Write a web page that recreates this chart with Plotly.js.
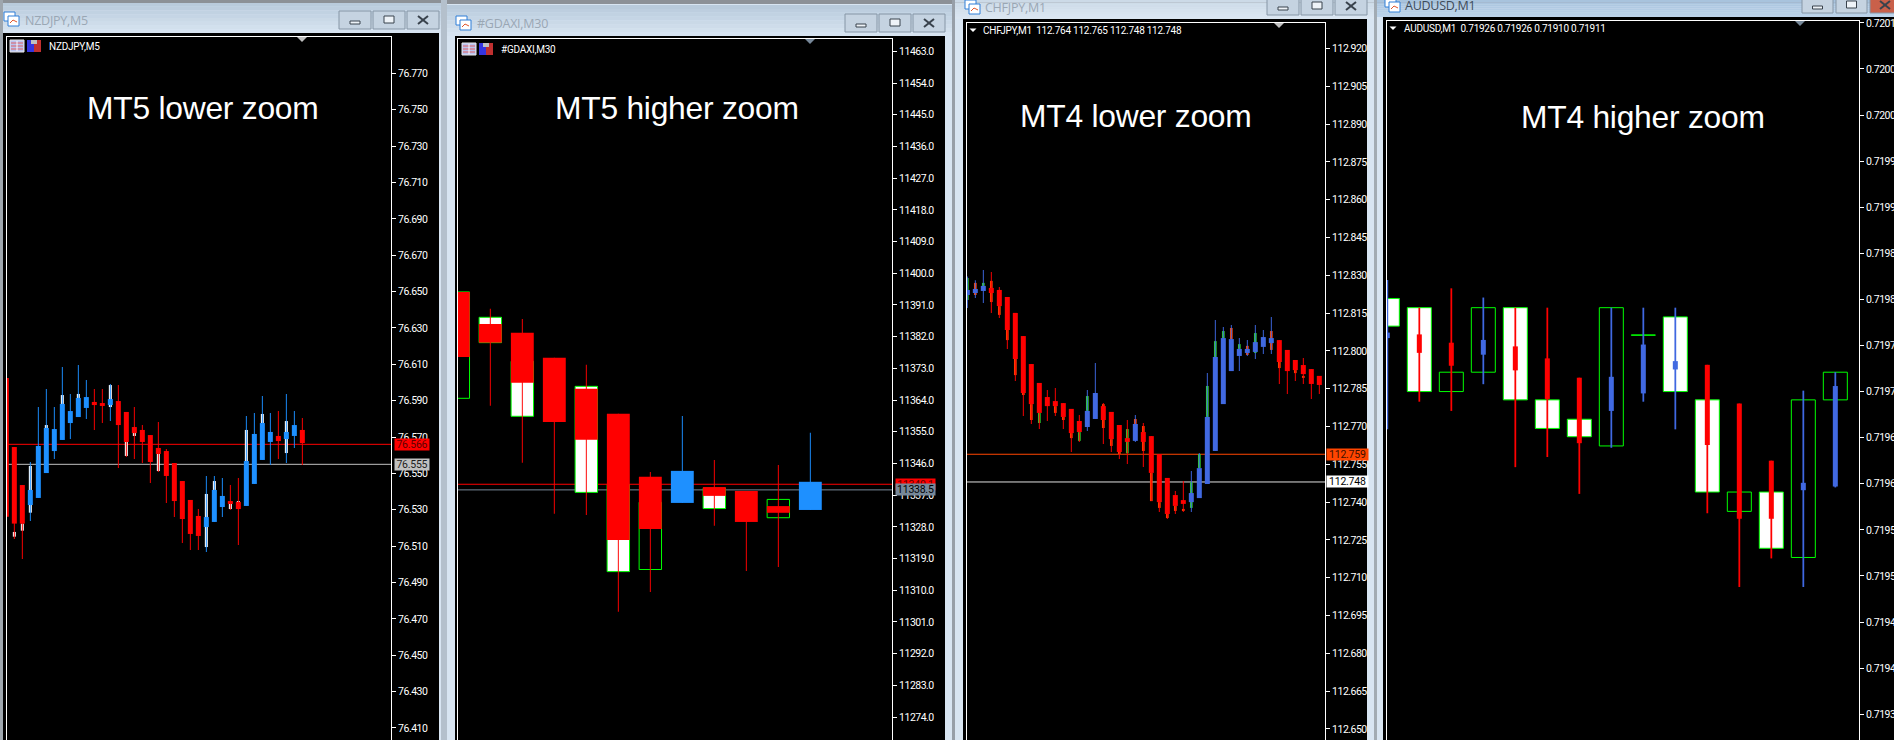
<!DOCTYPE html>
<html>
<head>
<meta charset="utf-8">
<script src="https://cdn.plot.ly/plotly-3.0.1.min.js"></script>
<style>
html,body{margin:0;padding:0;background:#d8e5f2;overflow:hidden}
#chart{width:1894px;height:740px}
.yaxislayer-above text{letter-spacing:-0.5px}
.annotation-text{letter-spacing:-0.25px}
</style>
</head>
<body>
<div id="chart"></div>
<script>
/* ---------- NZDJPY,M5 ---------- */
const nzdTicks = [76.770,76.750,76.730,76.710,76.690,76.670,76.650,76.630,76.610,76.590,76.570,76.550,76.530,76.510,76.490,76.470,76.450,76.430,76.410];
const nzdLevels = [76.566, 76.555];
const nzdDir = ['d','d','d','u','u','u','u','u','u','u','u','d','d','u','d','d','d','d','d','d','d','d','d','d','d','u','u','u','d','d','u','u','u','u','d','u','u','d'];
const nzdHigh = [76.6025,76.5645,76.5436,76.5563,76.5865,76.5964,76.5865,76.6085,76.5937,76.6096,76.6014,76.5964,76.5964,76.5992,76.5986,76.5838,76.5865,76.5766,76.5711,76.5783,76.5634,76.5557,76.5458,76.5354,76.5304,76.5486,76.5486,76.5475,76.5436,76.5475,76.5816,76.5832,76.5926,76.5832,76.5843,76.5937,76.5843,76.5805];
const nzdLow = [76.5262,76.5139,76.5029,76.5238,76.5365,76.5502,76.5579,76.5684,76.5689,76.5810,76.5799,76.5739,76.5777,76.5788,76.5530,76.5590,76.5579,76.5557,76.5447,76.5508,76.5337,76.5260,76.5117,76.5079,76.5079,76.5068,76.5233,76.5260,76.5299,76.5106,76.5321,76.5442,76.5574,76.5546,76.5579,76.5557,76.5640,76.5546];
const nzdBodyTop = [76.6025,76.5645,76.5436,76.5409,76.5651,76.5750,76.5744,76.5882,76.5843,76.5915,76.5920,76.5893,76.5887,76.5909,76.5898,76.5838,76.5755,76.5739,76.5711,76.5640,76.5623,76.5557,76.5458,76.5354,76.5266,76.5260,76.5409,76.5376,76.5348,76.5343,76.5568,76.5717,76.5777,76.5728,76.5706,76.5728,76.5766,76.5739];
const nzdBodyBottom = [76.5262,76.5224,76.5224,76.5326,76.5365,76.5502,76.5623,76.5684,76.5777,76.5810,76.5860,76.5876,76.5871,76.5876,76.5766,76.5673,76.5722,76.5673,76.5563,76.5607,76.5486,76.5348,76.5249,76.5167,76.5156,76.5205,76.5233,76.5315,76.5332,76.5304,76.5321,76.5442,76.5574,76.5673,76.5678,76.5689,76.5706,76.5667];
const nzdShadeTop = [null,76.5178,76.5224,76.5541,null,76.5766,null,76.5931,null,76.5937,null,null,null,76.5986,null,76.5673,76.5722,null,null,76.5607,null,null,null,null,null,76.5387,76.5458,null,76.5332,76.5348,76.5739,null,76.5827,null,null,76.5788,null,null];
const nzdShadeBottom = [null,76.5152,76.5185,76.5284,null,76.5750,null,76.5882,null,76.5915,null,null,null,76.5865,null,76.5596,76.5706,null,null,76.5513,null,null,null,null,null,76.5095,76.5409,null,76.5304,76.5343,76.5568,null,76.5777,null,null,76.5612,null,null];

/* ---------- #GDAXI,M30 ---------- */
const daxTicks = [11463,11454,11445,11436,11427,11418,11409,11400,11391,11382,11373,11364,11355,11346,11337,11328,11319,11310,11301,11292,11283,11274];
const daxLevels = [11340.1, 11338.5];
const daxDir = ['d','d','d','d','d','d','d','u','d','d','d','u'];
const daxHigh = [11394.7,11389.9,11387.0,11376.0,11374.0,11360.1,11343.6,11359.5,11347.0,11338.2,11345.6,11354.7];
const daxLow = [11376.2,11362.4,11346.2,11331.7,11331.4,11303.9,11309.5,11334.8,11328.3,11315.5,11316.6,11332.8];
const daxBodyTop = [11394.7,11385.6,11383.1,11376.0,11367.2,11360.1,11342.2,11343.9,11339.3,11338.2,11333.9,11340.8];
const daxBodyBottom = [11376.2,11380.3,11368.9,11357.8,11352.7,11324.3,11327.4,11334.8,11336.8,11329.4,11332.0,11332.8];
const daxShadeTop = [11394.7,11387.5,11375.0,null,11367.9,11340.0,11335.0,null,11339.0,null,11335.8,null];
const daxShadeBottom = [11364.5,11380.3,11359.4,null,11337.8,11315.3,11315.9,null,11333.2,null,11330.6,null];
const daxShadeKind = ['k','w','w',null,'w','w','k',null,'w',null,'k',null];

/* ---------- CHFJPY,M1 ---------- */
const chfTicks = [112.920,112.905,112.890,112.875,112.860,112.845,112.830,112.815,112.800,112.785,112.770,112.755,112.740,112.725,112.710,112.695,112.680,112.665,112.650];
const chfLevels = [112.759, 112.748];
const chfDir = ['u','u','u','d','d','d','d','d','d','d','d','d','d','d','d','u','u','d','d','d','d','u','d','d','d','d','d','d','u','u','u','u','u','u','u','u','u','u','u','d','d','d','d','d','d'];
const chfHigh = [112.8295,112.8281,112.8321,112.8313,112.8254,112.8214,112.8151,112.8059,112.7948,112.7873,112.7845,112.7853,112.7793,112.7770,112.7746,112.7845,112.7952,112.7793,112.7758,112.7706,112.7726,112.7746,112.7714,112.7662,112.7591,112.7496,112.7444,112.7484,112.7524,112.7595,112.7912,112.8123,112.8095,112.8103,112.8051,112.8043,112.8103,112.8083,112.8135,112.8043,112.8004,112.7964,112.7972,112.7928,112.7901];
const chfLow = [112.8170,112.8210,112.8190,112.8151,112.8131,112.8008,112.7881,112.7742,112.7710,112.7690,112.7722,112.7742,112.7690,112.7599,112.7639,112.7682,112.7730,112.7631,112.7599,112.7571,112.7551,112.7639,112.7539,112.7404,112.7361,112.7333,112.7353,112.7361,112.7361,112.7416,112.7472,112.7603,112.7789,112.7920,112.7920,112.7980,112.7968,112.7988,112.7988,112.7869,112.7829,112.7881,112.7869,112.7809,112.7829];
const chfBodyTop = [112.8242,112.8246,112.8258,112.8250,112.8242,112.8214,112.8151,112.8059,112.7948,112.7873,112.7817,112.7801,112.7793,112.7770,112.7722,112.7762,112.7833,112.7781,112.7758,112.7706,112.7654,112.7710,112.7678,112.7662,112.7591,112.7496,112.7428,112.7408,112.7436,112.7535,112.7738,112.7976,112.8051,112.8047,112.8008,112.8008,112.8035,112.8055,112.8051,112.8043,112.8004,112.7964,112.7944,112.7928,112.7901];
const chfBodyBottom = [112.8222,112.8230,112.8238,112.8230,112.8178,112.8083,112.7968,112.7833,112.7789,112.7754,112.7781,112.7781,112.7738,112.7674,112.7678,112.7698,112.7730,112.7726,112.7650,112.7599,112.7639,112.7643,112.7639,112.7516,112.7400,112.7353,112.7385,112.7393,112.7400,112.7416,112.7472,112.7603,112.7789,112.7920,112.7980,112.7992,112.7996,112.8016,112.8031,112.7956,112.7920,112.7924,112.7908,112.7869,112.7865];
const chfShadeTop = [112.8289,112.8270,112.8270,112.8278,112.8178,112.8083,112.7968,112.7833,112.7789,112.7754,null,112.7781,112.7738,112.7674,112.7678,112.7821,null,112.7789,112.7650,112.7599,112.7690,112.7730,112.7702,112.7516,112.7400,112.7353,112.7385,112.7373,112.7480,112.7591,112.7861,112.8039,112.8079,112.8091,112.8027,112.8020,112.8071,null,112.8079,112.7956,null,112.7924,112.7901,null,null];
const chfShadeBottom = [112.8202,112.8222,112.8258,112.8194,112.8143,112.8043,112.7904,112.7825,112.7726,112.7714,null,112.7754,112.7726,112.7654,112.7643,112.7762,null,112.7694,112.7623,112.7591,112.7594,112.7710,112.7603,112.7404,112.7377,112.7337,112.7365,112.7365,112.7377,112.7535,112.7738,112.7976,112.8051,112.8047,112.8008,112.7984,112.7992,null,112.8004,112.7932,null,112.7912,112.7893,null,null];
const chfShadeKind = ['g','o','g','o','o','o','o','o','o','g',null,'o','o','o','g','g',null,'o','o','o','g','o','o','o','o','o','o','o','g','g','g','g','g','o','g','o','g',null,'o','o',null,'o','o',null,null];

/* ---------- AUDUSD,M1 ---------- */
const audTicks = [0.72010,0.72005,0.72000,0.71995,0.71990,0.71985,0.71980,0.71975,0.71970,0.71965,0.71960,0.71955,0.71950,0.71945,0.71940,0.71935];
const audTickLabels = ['0.7201','0.7200','0.7200','0.7199','0.7199','0.7198','0.7198','0.7197','0.7197','0.7196','0.7196','0.7195','0.7195','0.7194','0.7194','0.7193'];
const audDir = ['u','d','d','u','d','d','d','u','u','u','d','d','d','u','u'];
const audHigh = [0.719821,0.719791,0.719812,0.719802,0.719791,0.719791,0.719715,0.719791,0.719791,0.719791,0.719729,0.719687,0.719625,0.719701,0.719721];
const audLow = [0.719659,0.719689,0.719679,0.719708,0.719618,0.719629,0.719589,0.719639,0.719689,0.719659,0.719568,0.719488,0.719519,0.719488,0.719596];
const audBodyTop = [0.719764,0.719762,0.719753,0.719756,0.719749,0.719736,0.719715,0.719716,0.719751,0.719733,0.719729,0.719687,0.719625,0.719601,0.719706];
const audBodyBottom = [0.719758,0.719742,0.719728,0.719740,0.719723,0.719692,0.719644,0.719679,0.719698,0.719724,0.719642,0.719562,0.719562,0.719593,0.719597];
const audShadeTop = [0.719801,0.719791,0.719721,0.719791,0.719791,0.719691,0.719670,0.719791,0.7197615,0.719781,0.719691,0.719591,0.719591,0.719691,0.719721];
const audShadeBottom = [0.719771,0.719700,0.719700,0.719721,0.719691,0.719660,0.719651,0.719641,0.719761,0.719700,0.719591,0.719570,0.719530,0.719520,0.719691];
const audShadeKind = ['w','w','k','k','w','w','w','k','k','w','w','k','w','k','k'];

/* ---------- text ---------- */
const captions = ['MT5 lower zoom','MT5 higher zoom','MT4 lower zoom','MT4 higher zoom'];
const windowTitles = ['NZDJPY,M5','#GDAXI,M30','CHFJPY,M1','AUDUSD,M1'];
const chartLabels = ['NZDJPY,M5','#GDAXI,M30','CHFJPY,M1  112.764 112.765 112.748 112.748','AUDUSD,M1  0.71926 0.71926 0.71910 0.71911'];

/* ---------- helpers ---------- */
const W = 1894, H = 740;
const px = x => x / W, py = y => 1 - y / H;
const RED = '#ff0000', DODGER = '#1e90ff', ROYAL = '#4169e1', LIME = '#00ff00', LIMEG = '#32cd32', ORANGE = '#ff4500';
const traces = [];
const CRISP = 0.02; /* a hair of outline makes the library snap bar edges to whole pixels */
function bars(ax, idx, tops, bots, width, color, lineColor, lineWidth) {
  const xs = [], base = [], h = [], cols = [], lcols = [];
  idx.forEach((x, i) => {
    if (tops[i] === null || bots[i] === null) return;
    const c = typeof color === 'function' ? color(i) : color;
    xs.push(x); base.push(bots[i]); h.push(tops[i] - bots[i]);
    cols.push(c);
    lcols.push(lineColor || c);
  });
  traces.push({type: 'bar', xaxis: 'x' + ax, yaxis: 'y' + ax, x: xs, y: h, base: base, width: width,
    hoverinfo: 'skip', showlegend: false,
    marker: {color: cols, line: {color: lcols, width: lineWidth || CRISP}}});
}
const indexOf = a => a.map((_, i) => i);

/* panel geometry in page pixels */
const panels = [
  {ax: '',  l: 7,    r: 391,  t: 37, xr: [0.084, 48.08], yr: [76.40336, 76.79005]},
  {ax: '2', l: 458,  r: 892,  t: 39, xr: [-0.01, 13.552], yr: [11267.5, 11466.5]},
  {ax: '3', l: 967,  r: 1325, t: 23, xr: [-0.04, 44.71], yr: [112.6456, 112.93014]},
  {ax: '4', l: 1387, r: 1859, t: 21, xr: [-0.01, 14.74], yr: [0.719322, 0.720102]}
];

/* panel 1 */
let ix = indexOf(nzdHigh);
bars('', ix, nzdShadeTop, nzdShadeBottom, 0.375, '#ffffff');
bars('', ix, nzdHigh, nzdLow, 0.12, i => nzdDir[i] === 'u' ? DODGER : RED);
bars('', ix, nzdBodyTop, nzdBodyBottom, 0.625, i => nzdDir[i] === 'u' ? DODGER : RED);

/* panel 2 */
ix = indexOf(daxHigh);
bars('2', ix, daxShadeTop, daxShadeBottom, 0.70, i => daxShadeKind[i] === 'w' ? '#ffffff' : '#000000', LIME, 1);
bars('2', ix, daxHigh, daxLow, 0.03, i => daxDir[i] === 'u' ? DODGER : RED);
bars('2', ix, daxBodyTop, daxBodyBottom, 0.715, i => daxDir[i] === 'u' ? DODGER : RED);

/* panel 3 */
ix = indexOf(chfHigh);
bars('3', ix, chfShadeTop, chfShadeBottom, 0.34, i => chfShadeKind[i] === 'g' ? LIMEG : ORANGE);
bars('3', ix, chfHigh, chfLow, 0.12, i => chfDir[i] === 'u' ? ROYAL : RED);
bars('3', ix, chfBodyTop, chfBodyBottom, 0.625, i => chfDir[i] === 'u' ? ROYAL : RED);

/* panel 4 */
ix = indexOf(audHigh);
bars('4', ix, audShadeTop, audShadeBottom, 0.75, i => audShadeKind[i] === 'w' ? '#ffffff' : '#000000', LIME, 1);
bars('4', ix, audHigh, audLow, 0.055, i => audDir[i] === 'u' ? ROYAL : RED);
bars('4', ix, audBodyTop, audBodyBottom, 0.156, i => audDir[i] === 'u' ? ROYAL : RED);

/* ---------- window chrome ---------- */
const shapes = [], annotations = [];
function rect(x0, y0, x1, y1, fill, line, layer) {
  shapes.push({type: 'rect', xref: 'paper', yref: 'paper', x0: px(x0), x1: px(x1), y0: py(y0), y1: py(y1),
    fillcolor: fill, line: {width: line ? 1 : 0, color: line || fill}, layer: layer || 'below'});
}
function seg(x0, y0, x1, y1, color, w) {
  shapes.push({type: 'line', xref: 'paper', yref: 'paper', x0: px(x0), x1: px(x1), y0: py(y0), y1: py(y1),
    line: {color: color, width: w || 1}, layer: 'above'});
}
function lerp(a, b, t) {
  const p = c => [1, 3, 5].map(i => parseInt(c.substr(i, 2), 16));
  const A = p(a), B = p(b);
  return 'rgb(' + A.map((v, i) => Math.round(v + (B[i] - v) * t)).join(',') + ')';
}
function bands(x0, x1, y0, y1, c0, c1) {
  const n = 8;
  for (let i = 0; i < n; i++) rect(x0, y0 + (y1 - y0) * i / n, x1, y0 + (y1 - y0) * (i + 1) / n, lerp(c0, c1, i / (n - 1)));
}
function txt(x, y, text, color, size, family, anchor) {
  annotations.push({xref: 'paper', yref: 'paper', x: px(x), y: py(y), text: text, showarrow: false,
    xanchor: anchor || 'left', yanchor: 'middle', borderpad: 0, font: {color: color, size: size, family: family}});
}
function winIcon(x, y) {
  rect(x, y, x + 11, y + 9, '#ffffff', '#2f7fd8', 'above');
  rect(x + 4, y + 4, x + 15, y + 14, '#ffffff', '#2f7fd8', 'above');
  seg(x + 6, y + 11, x + 9, y + 8, '#e0552b', 1);
  seg(x + 9, y + 8, x + 13, y + 10, '#e0552b', 1);
}
function buttons(xs, y0, y1, fill) {
  xs.forEach(([a, b], k) => {
    const c = k === 2 && fill ? fill : '#c5d3e1';
    rect(a, y0, b, y1, c, '#8696a6');
    const mx = (a + b) / 2, my = (y0 + y1) / 2;
    if (k === 0) rect(mx - 5, my + 1, mx + 5, my + 4, '#eef3f8', '#39424c', 'above');
    if (k === 1) rect(mx - 5, my - 4, mx + 5, my + 3, '#eef3f8', '#39424c', 'above');
    if (k === 2) { seg(mx - 5, my - 4, mx + 5, my + 4, '#39424c', 2); seg(mx - 5, my + 4, mx + 5, my - 4, '#39424c', 2); }
  });
}
function mt5Icons(x, y) {
  rect(x, y, x + 14, y + 12, '#b9c2f0', '#e8e8e8', 'above');
  [3, 6, 9].forEach(d => seg(x + 1, y + d, x + 13, y + d, '#e06060', 1));
  seg(x + 7, y + 1, x + 7, y + 11, '#ffffff', 1);
  rect(x + 17, y, x + 24, y + 12, '#3535e0', null, 'above');
  rect(x + 24, y, x + 31, y + 12, '#c03030', null, 'above');
  rect(x + 21, y, x + 27, y + 4, '#c0c0c0', null, 'above');
}
function marker(x, y, s, color) {
  shapes.push({type: 'path', xref: 'paper', yref: 'paper', layer: 'above', line: {width: 0}, fillcolor: color,
    path: 'M' + px(x - s) + ',' + py(y) + ' L' + px(x + s) + ',' + py(y) + ' L' + px(x) + ',' + py(y + s) + ' Z'});
}

/* separators + top strip */
rect(0, 0, W, 4, '#8c9197');
rect(0, 0, 3, H, '#9ea6ae');
rect(441, 0, 447, H, '#b4c0cc');
rect(952, 0, 955, H, '#979fa8');
rect(1374, 0, 1377, H, '#a2abb3');
/* title bars */
bands(3, 441, 3, 33, '#b9cbdc', '#d6e3f0');
bands(447, 952, 5, 36, '#b9cbdc', '#d6e3f0');
bands(955, 1374, 0, 19, '#ccdae7', '#dbe6f1');
bands(1377, W, 0, 17, '#a8c3dd', '#bcd3ea');
/* black chart panes */
rect(3, 33, 439, H, '#000000');
rect(455, 36, 945, H, '#000000');
rect(963, 19, 1367, H, '#000000');
rect(1383, 17, W, H, '#000000');
/* current-price lines, behind the candles */
function level(ax, range, value, color) {
  shapes.push({type: 'line', xref: 'x' + ax, yref: 'y' + ax, x0: range[0], x1: range[1], y0: value, y1: value,
    line: {color: color, width: 1}, layer: 'below'});
}
level('', panels[0].xr, nzdLevels[0], RED);
level('', panels[0].xr, nzdLevels[1], '#c0c0c0');
level('2', panels[1].xr, daxLevels[0], RED);
level('2', panels[1].xr, daxLevels[1], '#778899');
level('3', panels[2].xr, chfLevels[0], ORANGE);
level('3', panels[2].xr, chfLevels[1], '#e0e0e0');
/* buttons, icons, window titles */
buttons([[339, 371], [373, 405], [407, 439]], 11, 29);
buttons([[845, 877], [879, 911], [913, 945]], 14, 32);
buttons([[1267, 1299], [1301, 1333], [1335, 1367]], -3, 15);
buttons([[1802, 1833], [1836, 1867], [1870, 1900]], -3, 13, '#c9604a');
winIcon(4, 12); winIcon(456, 16); winIcon(965, 0); winIcon(1385, -2);
const TF = '"Open Sans", sans-serif';
txt(24, 20.5, windowTitles[0], '#9aa7b4', 12.5, TF);
txt(476, 23.5, windowTitles[1], '#9aa7b4', 12.5, TF);
txt(984, 7.5, windowTitles[2], '#9aa7b4', 12.5, TF);
txt(1404, 5.5, windowTitles[3], '#3e4b59', 12.5, TF);
/* chart overlays */
const LF = 'Roboto, sans-serif';
mt5Icons(10, 40); mt5Icons(462, 43);
txt(47.5, 46.5, chartLabels[0], '#ffffff', 10, LF);
txt(500, 49.5, chartLabels[1], '#ffffff', 10, LF);
txt(982, 30.5, chartLabels[2], '#ffffff', 10, LF);
txt(1402.5, 28.5, chartLabels[3], '#ffffff', 10, LF);
marker(973, 28.5, 3.5, '#ffffff'); marker(1393, 26.5, 3.5, '#ffffff');
marker(302, 37, 5, '#c0c0c0'); marker(810, 39, 5, '#778899'); marker(1279, 23, 5, '#c0c0c0'); marker(1800, 21, 5, '#778899');
/* captions */
const CF = '"Liberation Sans", Arial, sans-serif';
txt(203, 108, captions[0], '#ffffff', 31.8, CF, 'center');
txt(677, 108, captions[1], '#ffffff', 31.8, CF, 'center');
txt(1135.5, 116, captions[2], '#ffffff', 31.8, CF, 'center');
txt(1642.5, 116.5, captions[3], '#ffffff', 31.8, CF, 'center');

/* price badges */
function badge(ax, value, label, x0, x1, bg, fg) {
  annotations.push({xref: 'paper', yref: 'y' + ax, x: px(x0), y: value, text: label, showarrow: false,
    xanchor: 'left', yanchor: 'middle', align: 'center', width: x1 - x0, height: 11, borderpad: 0, bgcolor: bg,
    font: {color: fg, size: 10.5, family: LF}});
}
badge('', nzdLevels[0], nzdLevels[0].toFixed(3), 394, 428, RED, '#600000');
badge('', nzdLevels[1], nzdLevels[1].toFixed(3), 394, 428, '#c0c0c0', '#202020');
badge('2', daxLevels[0], daxLevels[0].toFixed(1), 895, 934, RED, '#600000');
badge('2', daxLevels[1], daxLevels[1].toFixed(1), 895, 934, '#778899', '#000000');
badge('3', chfLevels[0], chfLevels[0].toFixed(3), 1326, 1367, ORANGE, '#401000');
badge('3', chfLevels[1], chfLevels[1].toFixed(3), 1326, 1367, '#ffffff', '#000000');

/* ---------- axes ---------- */
const layout = {
  width: W, height: H, margin: {l: 0, r: 0, t: 0, b: 0, pad: 0}, autosize: false,
  paper_bgcolor: '#d8e5f2', plot_bgcolor: 'rgba(0,0,0,0)', barmode: 'overlay', showlegend: false,
  hovermode: false, dragmode: false, shapes: shapes, annotations: annotations
};
const tickCfg = [
  {vals: nzdTicks, text: nzdTicks.map(v => v.toFixed(3))},
  {vals: daxTicks, text: daxTicks.map(v => v.toFixed(1))},
  {vals: chfTicks, text: chfTicks.map(v => v.toFixed(3))},
  {vals: audTicks, text: audTickLabels}
];
panels.forEach((p, k) => {
  const s = p.ax;
  layout['xaxis' + s] = {domain: [px(p.l), px(p.r)], range: p.xr, anchor: 'y' + s, showgrid: false, zeroline: false,
    showticklabels: false, ticks: '', showline: true, mirror: true, linecolor: '#ffffff', linewidth: 1, fixedrange: true};
  layout['yaxis' + s] = {domain: [0, py(p.t)], range: p.yr, anchor: 'x' + s, side: 'right', showgrid: false, zeroline: false,
    tickmode: 'array', tickvals: tickCfg[k].vals, ticktext: tickCfg[k].text, ticks: 'outside', ticklen: 4, tickwidth: 1,
    tickcolor: '#ffffff', showline: true, mirror: true, linecolor: '#ffffff', linewidth: 1, fixedrange: true,
    tickfont: {color: '#ffffff', size: 10.5, family: LF}};
});

Plotly.newPlot('chart', traces, layout, {displayModeBar: false, responsive: false});
</script>
</body>
</html>
